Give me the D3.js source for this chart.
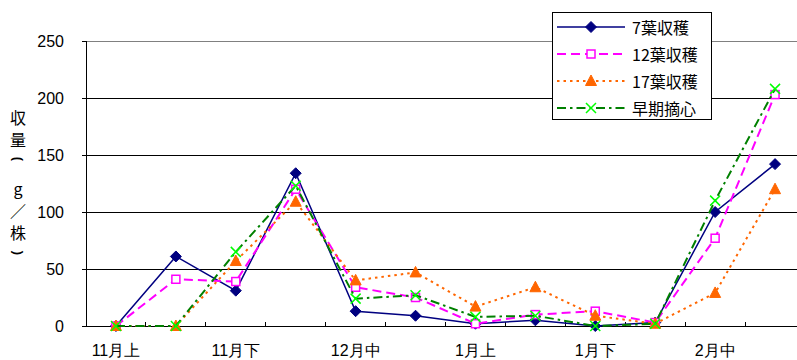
<!DOCTYPE html>
<html><head><meta charset="utf-8">
<script src="https://cdn.jsdelivr.net/npm/d3@7"></script>
<style>
html,body{margin:0;padding:0;background:#fff;}
svg{display:block;font-family:"MS PGothic","Noto Sans CJK JP",sans-serif;}
</style></head>
<body><svg id="c" width="797" height="360"></svg>
<script>
const categories = ["11月上","11月中","11月下","12月上","12月中","12月下","1月上","1月中","1月下","2月上","2月中","2月下"];
const shownLabels = ["11月上","11月下","12月中","1月上","1月下","2月中"];
const yTicks = [0,50,100,150,200,250];
const seriesNames = ["7葉収穫","12葉収穫","17葉収穫","早期摘心"];
const s7 = [0,61,31,134,13,9,2,5,0,3,100,142];
const s12 = [0,41,39,120,34,25,2,10,13,3,77,203];
const s17 = [0,0,57,109,40,47,17,34,9,2,29,120];
const sEarly = [0,0,65,123,24,27,8,9,0,2,110,208];
const yTitle = "収量（g／株）";
const rotatedParens = {"（":"(","）":")"};

const series = [
  {name:seriesNames[0], values:s7, color:"#000080", dash:null, width:1.5, marker:"diamond", mfill:"#000080", mstroke:"#000080"},
  {name:seriesNames[1], values:s12, color:"#FF00FF", dash:"9,5", width:2, marker:"square", mfill:"#fff", mstroke:"#FF00FF"},
  {name:seriesNames[2], values:s17, color:"#FF6600", dash:"2.5,4", width:2, marker:"triangle", mfill:"#FF6600", mstroke:"#FF6600"},
  {name:seriesNames[3], values:sEarly, color:"#008000", dash:"9,4,2.5,4", width:2, marker:"x", mfill:"none", mstroke:"#00FF00"}
];

const svg = d3.select("#c");
const L=86, T=41, B=326, R=805;
const x = d3.scaleBand().domain(categories).range([L,R]);
const xc = c => x(c)+x.bandwidth()/2;
const y = d3.scaleLinear().domain([0,250]).range([B,T]);

// gridlines
svg.append("g").selectAll("line").data(yTicks.filter(d=>d>0)).join("line")
  .attr("x1",L).attr("x2",R).attr("y1",d=>y(d)).attr("y2",d=>y(d))
  .attr("stroke",d=>d===250?"#808080":"#000").attr("stroke-width",1).attr("shape-rendering","crispEdges");

// y axis
const ya = svg.append("g").attr("transform",`translate(${L},0)`)
  .call(d3.axisLeft(y).tickValues(yTicks).tickSize(4).tickPadding(18));
ya.select(".domain").attr("stroke","#000").attr("shape-rendering","crispEdges");
ya.selectAll(".tick line").attr("stroke","#000").attr("shape-rendering","crispEdges");
ya.selectAll("text").attr("font-size",16).attr("fill","#000").attr("font-family","'Liberation Sans','Noto Sans CJK JP',sans-serif");

// x axis
const xa = svg.append("g").attr("transform",`translate(0,${B})`)
  .call(d3.axisBottom(x).tickSize(0).tickPadding(19).tickFormat(d=>shownLabels.includes(d)?d:""));
xa.select(".domain").attr("stroke","#000").attr("shape-rendering","crispEdges");
xa.selectAll("text").attr("font-size",16).attr("fill","#000");
// inner tick marks at band boundaries
svg.append("g").selectAll("line").data(categories.slice(1)).join("line")
  .attr("x1",d=>x(d)).attr("x2",d=>x(d)).attr("y1",B).attr("y2",B-4)
  .attr("stroke","#000").attr("shape-rendering","crispEdges");

// y title (vertical, one glyph per line; parentheses turned for vertical setting)
const chars = Array.from(yTitle);
const ty = [117,139,159,188,210,232,253];
chars.forEach((ch,i)=>{
  const t = svg.append("text").attr("fill","#000")
    .attr("text-anchor","middle").attr("dominant-baseline","central");
  if(rotatedParens[ch]){
    t.attr("font-size",13).attr("font-family","'Liberation Sans',sans-serif").attr("font-weight","bold")
     .attr("transform",`translate(18,${ty[i]}) rotate(90)`).text(rotatedParens[ch]);
  } else {
    t.attr("font-size",16).attr("x",18).attr("y",ty[i]).text(ch);
  }
});

function drawMarker(g, type, cx, cy, s){
  if(type==="diamond"){
    g.append("path").attr("d",`M${cx},${cy-5.5}L${cx+5.5},${cy}L${cx},${cy+5.5}L${cx-5.5},${cy}Z`)
      .attr("fill",s.mfill).attr("stroke",s.mstroke).attr("stroke-width",1);
  } else if(type==="square"){
    g.append("rect").attr("x",cx-4).attr("y",cy-4).attr("width",8).attr("height",8)
      .attr("fill",s.mfill).attr("stroke",s.mstroke).attr("stroke-width",1.5);
  } else if(type==="triangle"){
    g.append("path").attr("d",`M${cx},${cy-6}L${cx+5.5},${cy+4.5}L${cx-5.5},${cy+4.5}Z`)
      .attr("fill",s.mfill).attr("stroke",s.mstroke).attr("stroke-width",1);
  } else {
    g.append("path").attr("d",`M${cx-5},${cy-5}L${cx+5},${cy+5}M${cx+5},${cy-5}L${cx-5},${cy+5}`)
      .attr("fill","none").attr("stroke",s.mstroke).attr("stroke-width",1.5);
  }
}

const line = d3.line().x((d,i)=>xc(categories[i])).y(d=>y(d));
series.forEach(s=>{
  const g = svg.append("g");
  g.append("path").datum(s.values).attr("d",line).attr("fill","none")
    .attr("stroke",s.color).attr("stroke-width",s.width)
    .attr("stroke-dasharray",s.dash);
  s.values.forEach((v,i)=>drawMarker(g,s.marker,xc(categories[i]),y(v),s));
});

// legend
const lg = svg.append("g");
lg.append("rect").attr("x",552.5).attr("y",12.5).attr("width",159).attr("height",107)
  .attr("fill","#fff").attr("stroke","#000").attr("stroke-width",1);
const rowY = [27,54,81,108];
series.forEach((s,i)=>{
  const yy=rowY[i];
  lg.append("line").attr("x1",557).attr("x2",625).attr("y1",yy).attr("y2",yy)
    .attr("stroke",s.color).attr("stroke-width",s.width).attr("stroke-dasharray",s.dash);
  drawMarker(lg,s.marker,591,yy,s);
  lg.append("text").attr("x",632).attr("y",yy).attr("dominant-baseline","central")
    .attr("font-size",16).attr("fill","#000").text(s.name);
});
</script></body></html>
